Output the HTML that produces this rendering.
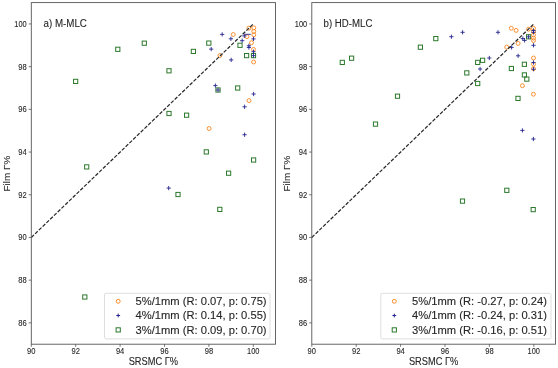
<!DOCTYPE html>
<html><head><meta charset="utf-8"><style>
html,body{margin:0;padding:0;background:#fff;}
svg{display:block;will-change:transform;}
text{font-family:"Liberation Sans", sans-serif;fill:#262626;stroke:#262626;stroke-width:0.1px;}
</style></head><body>
<svg width="558" height="368" viewBox="0 0 558 368">
<rect width="558" height="368" fill="#fff"/>
<g fill="none" stroke="#2c782c" stroke-width="1"><rect x="73.55" y="79.30" width="4.2" height="4.2"/><rect x="115.70" y="47.20" width="4.2" height="4.2"/><rect x="142.20" y="41.10" width="4.2" height="4.2"/><rect x="166.90" y="68.70" width="4.2" height="4.2"/><rect x="191.30" y="49.30" width="4.2" height="4.2"/><rect x="206.70" y="41.00" width="4.2" height="4.2"/><rect x="166.90" y="111.40" width="4.2" height="4.2"/><rect x="184.50" y="113.10" width="4.2" height="4.2"/><rect x="215.90" y="87.90" width="4.2" height="4.2"/><rect x="235.60" y="85.90" width="4.2" height="4.2"/><rect x="204.20" y="149.80" width="4.2" height="4.2"/><rect x="251.50" y="157.90" width="4.2" height="4.2"/><rect x="226.50" y="171.10" width="4.2" height="4.2"/><rect x="217.70" y="207.30" width="4.2" height="4.2"/><rect x="175.90" y="192.40" width="4.2" height="4.2"/><rect x="84.60" y="164.80" width="4.2" height="4.2"/><rect x="82.70" y="294.90" width="4.2" height="4.2"/><rect x="237.90" y="43.20" width="4.2" height="4.2"/><rect x="244.50" y="53.50" width="4.2" height="4.2"/><rect x="251.40" y="53.50" width="4.2" height="4.2"/></g>
<g fill="none" stroke="#fa8a26" stroke-width="0.95"><circle cx="233.30" cy="34.50" r="1.95"/><circle cx="219.90" cy="55.50" r="1.95"/><circle cx="253.60" cy="62.00" r="1.95"/><circle cx="249.00" cy="100.60" r="1.95"/><circle cx="209.10" cy="128.50" r="1.95"/><circle cx="248.90" cy="28.20" r="1.95"/><circle cx="253.80" cy="27.80" r="1.95"/><circle cx="253.80" cy="31.40" r="1.95"/><circle cx="253.80" cy="34.90" r="1.95"/><circle cx="247.00" cy="36.60" r="1.95"/><circle cx="251.50" cy="42.70" r="1.95"/><circle cx="253.50" cy="49.40" r="1.95"/></g>
<g fill="none" stroke="#24248f" stroke-width="0.9"><path d="M220.10 34.40h4.20M222.20 32.30v4.20"/><path d="M228.80 38.80h4.20M230.90 36.70v4.20"/><path d="M209.10 49.10h4.20M211.20 47.00v4.20"/><path d="M229.10 59.90h4.20M231.20 57.80v4.20"/><path d="M213.30 85.60h4.20M215.40 83.50v4.20"/><path d="M215.90 90.00h4.20M218.00 87.90v4.20"/><path d="M251.50 94.00h4.20M253.60 91.90v4.20"/><path d="M242.50 106.80h4.20M244.60 104.70v4.20"/><path d="M242.50 134.70h4.20M244.60 132.60v4.20"/><path d="M166.60 188.10h4.20M168.70 186.00v4.20"/><path d="M242.20 35.90h4.20M244.30 33.80v4.20"/><path d="M251.40 38.90h4.20M253.50 36.80v4.20"/><path d="M240.10 40.70h4.20M242.20 38.60v4.20"/><path d="M246.80 45.80h4.20M248.90 43.70v4.20"/><path d="M246.80 47.50h4.20M248.90 45.40v4.20"/><path d="M251.40 51.70h4.20M253.50 49.60v4.20"/><path d="M251.40 55.60h4.20M253.50 53.50v4.20"/></g>
<line x1="31.30" y1="237.45" x2="253.30" y2="23.95" stroke="#262626" stroke-width="1.2" stroke-dasharray="3.67 1.565"/>
<rect x="31.30" y="2.60" width="244.20" height="341.60" fill="none" stroke="#555555" stroke-width="0.9"/>
<path d="M28.70 322.85h2.6M28.70 280.15h2.6M28.70 237.45h2.6M28.70 194.75h2.6M28.70 152.05h2.6M28.70 109.35h2.6M28.70 66.65h2.6M28.70 23.95h2.6M31.30 344.20v2.6M75.70 344.20v2.6M120.10 344.20v2.6M164.50 344.20v2.6M208.90 344.20v2.6M253.30 344.20v2.6" stroke="#555555" stroke-width="0.8" fill="none"/>
<text x="26.70" y="325.75" text-anchor="end" font-size="8.6" textLength="8.4" lengthAdjust="spacingAndGlyphs">86</text>
<text x="26.70" y="283.05" text-anchor="end" font-size="8.6" textLength="8.4" lengthAdjust="spacingAndGlyphs">88</text>
<text x="26.70" y="240.35" text-anchor="end" font-size="8.6" textLength="8.4" lengthAdjust="spacingAndGlyphs">90</text>
<text x="26.70" y="197.65" text-anchor="end" font-size="8.6" textLength="8.4" lengthAdjust="spacingAndGlyphs">92</text>
<text x="26.70" y="154.95" text-anchor="end" font-size="8.6" textLength="8.4" lengthAdjust="spacingAndGlyphs">94</text>
<text x="26.70" y="112.25" text-anchor="end" font-size="8.6" textLength="8.4" lengthAdjust="spacingAndGlyphs">96</text>
<text x="26.70" y="69.55" text-anchor="end" font-size="8.6" textLength="8.4" lengthAdjust="spacingAndGlyphs">98</text>
<text x="26.70" y="26.85" text-anchor="end" font-size="8.6" textLength="12.4" lengthAdjust="spacingAndGlyphs">100</text>
<text x="31.30" y="354.00" text-anchor="middle" font-size="8.6" textLength="8.4" lengthAdjust="spacingAndGlyphs">90</text>
<text x="75.70" y="354.00" text-anchor="middle" font-size="8.6" textLength="8.4" lengthAdjust="spacingAndGlyphs">92</text>
<text x="120.10" y="354.00" text-anchor="middle" font-size="8.6" textLength="8.4" lengthAdjust="spacingAndGlyphs">94</text>
<text x="164.50" y="354.00" text-anchor="middle" font-size="8.6" textLength="8.4" lengthAdjust="spacingAndGlyphs">96</text>
<text x="208.90" y="354.00" text-anchor="middle" font-size="8.6" textLength="8.4" lengthAdjust="spacingAndGlyphs">98</text>
<text x="253.30" y="354.00" text-anchor="middle" font-size="8.6" textLength="12.4" lengthAdjust="spacingAndGlyphs">100</text>
<text x="43.50" y="26.9" font-size="10" textLength="43.40" lengthAdjust="spacingAndGlyphs">a) M-MLC</text>
<text x="153.40" y="364.9" text-anchor="middle" font-size="10.2" textLength="49.4" lengthAdjust="spacingAndGlyphs">SRSMC Γ%</text>
<path d="M244.6 34.3h6.2" stroke="#24248f" stroke-width="0.9"/>
<g fill="none" stroke="#2c782c" stroke-width="1"><rect x="340.20" y="60.30" width="4.2" height="4.2"/><rect x="349.50" y="56.10" width="4.2" height="4.2"/><rect x="418.30" y="45.10" width="4.2" height="4.2"/><rect x="433.70" y="36.50" width="4.2" height="4.2"/><rect x="464.70" y="70.80" width="4.2" height="4.2"/><rect x="475.60" y="60.30" width="4.2" height="4.2"/><rect x="480.50" y="58.20" width="4.2" height="4.2"/><rect x="475.60" y="81.40" width="4.2" height="4.2"/><rect x="395.40" y="94.10" width="4.2" height="4.2"/><rect x="373.40" y="122.00" width="4.2" height="4.2"/><rect x="509.30" y="66.40" width="4.2" height="4.2"/><rect x="522.30" y="62.20" width="4.2" height="4.2"/><rect x="522.30" y="72.80" width="4.2" height="4.2"/><rect x="524.70" y="77.00" width="4.2" height="4.2"/><rect x="515.90" y="96.30" width="4.2" height="4.2"/><rect x="526.50" y="34.70" width="4.2" height="4.2"/><rect x="460.40" y="199.00" width="4.2" height="4.2"/><rect x="504.70" y="188.20" width="4.2" height="4.2"/><rect x="531.10" y="207.50" width="4.2" height="4.2"/></g>
<g fill="none" stroke="#fa8a26" stroke-width="0.95"><circle cx="511.30" cy="28.30" r="1.95"/><circle cx="516.10" cy="30.40" r="1.95"/><circle cx="518.10" cy="43.40" r="1.95"/><circle cx="506.70" cy="47.10" r="1.95"/><circle cx="528.60" cy="29.20" r="1.95"/><circle cx="533.50" cy="28.30" r="1.95"/><circle cx="533.50" cy="31.60" r="1.95"/><circle cx="533.50" cy="34.90" r="1.95"/><circle cx="533.50" cy="38.10" r="1.95"/><circle cx="533.50" cy="40.60" r="1.95"/><circle cx="533.50" cy="58.00" r="1.95"/><circle cx="533.50" cy="64.30" r="1.95"/><circle cx="533.50" cy="68.70" r="1.95"/><circle cx="522.40" cy="85.70" r="1.95"/><circle cx="533.40" cy="94.20" r="1.95"/></g>
<g fill="none" stroke="#24248f" stroke-width="0.9"><path d="M449.30 36.70h4.20M451.40 34.60v4.20"/><path d="M460.50 32.30h4.20M462.60 30.20v4.20"/><path d="M495.90 32.30h4.20M498.00 30.20v4.20"/><path d="M509.50 47.40h4.20M511.60 45.30v4.20"/><path d="M478.00 69.00h4.20M480.10 66.90v4.20"/><path d="M487.20 58.00h4.20M489.30 55.90v4.20"/><path d="M516.00 55.80h4.20M518.10 53.70v4.20"/><path d="M520.70 38.60h4.20M522.80 36.50v4.20"/><path d="M522.50 40.40h4.20M524.60 38.30v4.20"/><path d="M526.50 36.80h4.20M528.60 34.70v4.20"/><path d="M531.40 30.50h4.20M533.50 28.40v4.20"/><path d="M531.40 32.30h4.20M533.50 30.20v4.20"/><path d="M531.40 45.30h4.20M533.50 43.20v4.20"/><path d="M531.40 62.50h4.20M533.50 60.40v4.20"/><path d="M531.40 69.20h4.20M533.50 67.10v4.20"/><path d="M520.30 130.40h4.20M522.40 128.30v4.20"/><path d="M531.30 139.00h4.20M533.40 136.90v4.20"/></g>
<line x1="311.80" y1="237.45" x2="533.80" y2="23.95" stroke="#262626" stroke-width="1.2" stroke-dasharray="3.67 1.565"/>
<rect x="311.80" y="2.60" width="243.70" height="341.60" fill="none" stroke="#555555" stroke-width="0.9"/>
<path d="M309.20 322.85h2.6M309.20 280.15h2.6M309.20 237.45h2.6M309.20 194.75h2.6M309.20 152.05h2.6M309.20 109.35h2.6M309.20 66.65h2.6M309.20 23.95h2.6M311.80 344.20v2.6M356.20 344.20v2.6M400.60 344.20v2.6M445.00 344.20v2.6M489.40 344.20v2.6M533.80 344.20v2.6" stroke="#555555" stroke-width="0.8" fill="none"/>
<text x="307.20" y="325.75" text-anchor="end" font-size="8.6" textLength="8.4" lengthAdjust="spacingAndGlyphs">86</text>
<text x="307.20" y="283.05" text-anchor="end" font-size="8.6" textLength="8.4" lengthAdjust="spacingAndGlyphs">88</text>
<text x="307.20" y="240.35" text-anchor="end" font-size="8.6" textLength="8.4" lengthAdjust="spacingAndGlyphs">90</text>
<text x="307.20" y="197.65" text-anchor="end" font-size="8.6" textLength="8.4" lengthAdjust="spacingAndGlyphs">92</text>
<text x="307.20" y="154.95" text-anchor="end" font-size="8.6" textLength="8.4" lengthAdjust="spacingAndGlyphs">94</text>
<text x="307.20" y="112.25" text-anchor="end" font-size="8.6" textLength="8.4" lengthAdjust="spacingAndGlyphs">96</text>
<text x="307.20" y="69.55" text-anchor="end" font-size="8.6" textLength="8.4" lengthAdjust="spacingAndGlyphs">98</text>
<text x="307.20" y="26.85" text-anchor="end" font-size="8.6" textLength="12.4" lengthAdjust="spacingAndGlyphs">100</text>
<text x="311.80" y="354.00" text-anchor="middle" font-size="8.6" textLength="8.4" lengthAdjust="spacingAndGlyphs">90</text>
<text x="356.20" y="354.00" text-anchor="middle" font-size="8.6" textLength="8.4" lengthAdjust="spacingAndGlyphs">92</text>
<text x="400.60" y="354.00" text-anchor="middle" font-size="8.6" textLength="8.4" lengthAdjust="spacingAndGlyphs">94</text>
<text x="445.00" y="354.00" text-anchor="middle" font-size="8.6" textLength="8.4" lengthAdjust="spacingAndGlyphs">96</text>
<text x="489.40" y="354.00" text-anchor="middle" font-size="8.6" textLength="8.4" lengthAdjust="spacingAndGlyphs">98</text>
<text x="533.80" y="354.00" text-anchor="middle" font-size="8.6" textLength="12.4" lengthAdjust="spacingAndGlyphs">100</text>
<text x="323.60" y="26.9" font-size="10" textLength="48.80" lengthAdjust="spacingAndGlyphs">b) HD-MLC</text>
<text x="433.65" y="364.9" text-anchor="middle" font-size="10.2" textLength="49.4" lengthAdjust="spacingAndGlyphs">SRSMC Γ%</text>
<rect x="104.50" y="293.30" width="165.50" height="45.60" rx="1.6" fill="#fff" fill-opacity="0.8" stroke="#d6d6d6" stroke-width="0.8"/>
<g fill="none" stroke="#fa8a26" stroke-width="1"><circle cx="118.20" cy="301.30" r="1.95"/></g>
<g fill="none" stroke="#24248f" stroke-width="1"><path d="M116.30 315.50h3.80M118.20 313.60v3.80"/></g>
<g fill="none" stroke="#2c782c" stroke-width="1"><rect x="116.10" y="327.80" width="4.2" height="4.2"/></g>
<text x="135.60" y="305.20" font-size="10" textLength="131.00" lengthAdjust="spacingAndGlyphs">5%/1mm (R: 0.07, p: 0.75)</text>
<text x="135.60" y="319.40" font-size="10" textLength="131.00" lengthAdjust="spacingAndGlyphs">4%/1mm (R: 0.14, p: 0.55)</text>
<text x="135.60" y="333.80" font-size="10" textLength="131.00" lengthAdjust="spacingAndGlyphs">3%/1mm (R: 0.09, p: 0.70)</text>
<rect x="380.80" y="293.30" width="170.20" height="45.60" rx="1.6" fill="#fff" fill-opacity="0.8" stroke="#d6d6d6" stroke-width="0.8"/>
<g fill="none" stroke="#fa8a26" stroke-width="1"><circle cx="394.30" cy="301.30" r="1.95"/></g>
<g fill="none" stroke="#24248f" stroke-width="1"><path d="M392.40 315.50h3.80M394.30 313.60v3.80"/></g>
<g fill="none" stroke="#2c782c" stroke-width="1"><rect x="392.20" y="327.80" width="4.2" height="4.2"/></g>
<text x="412.00" y="305.20" font-size="10" textLength="134.90" lengthAdjust="spacingAndGlyphs">5%/1mm (R: -0.27, p: 0.24)</text>
<text x="412.00" y="319.40" font-size="10" textLength="134.90" lengthAdjust="spacingAndGlyphs">4%/1mm (R: -0.24, p: 0.31)</text>
<text x="412.00" y="333.80" font-size="10" textLength="134.90" lengthAdjust="spacingAndGlyphs">3%/1mm (R: -0.16, p: 0.51)</text>
<text transform="translate(9.70,173.7) rotate(-90)" text-anchor="middle" font-size="9.8" textLength="35.8" lengthAdjust="spacingAndGlyphs">Film Γ%</text>
<text transform="translate(290.20,173.7) rotate(-90)" text-anchor="middle" font-size="9.8" textLength="35.8" lengthAdjust="spacingAndGlyphs">Film Γ%</text>
</svg>
</body></html>
